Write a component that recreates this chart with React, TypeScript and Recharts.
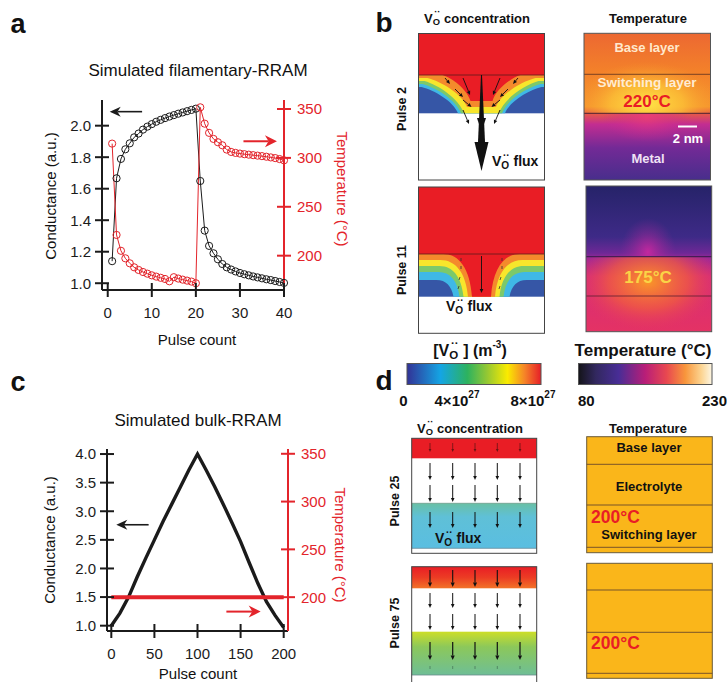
import React from "react";
import { ComposedChart, Line, XAxis, YAxis, ReferenceLine } from "recharts";

const FONT = '"Liberation Sans", Arial, Helvetica, sans-serif';
const INK = "#1b1b1b";
const RED = "#e3242b";
const FIELD_RED = "#e91d25";

// filamentary device: pulses 1-40, potentiation then depression
const filPulses = [
  1, 2, 3, 4, 5, 6, 7, 8, 9, 10, 11, 12, 13, 14, 15, 16, 17, 18, 19, 20,
  21, 22, 23, 24, 25, 26, 27, 28, 29, 30, 31, 32, 33, 34, 35, 36, 37, 38, 39, 40,
];
const filConductance = [
  1.14, 1.666, 1.789, 1.85, 1.888, 1.926, 1.95, 1.975, 1.994, 2.01,
  2.025, 2.037, 2.048, 2.058, 2.067, 2.076, 2.084, 2.092, 2.1, 2.108,
  1.649, 1.334, 1.237, 1.19, 1.152, 1.122, 1.101, 1.087, 1.075, 1.065,
  1.057, 1.05, 1.043, 1.037, 1.031, 1.025, 1.02, 1.014, 1.008, 1.002,
];
const filTemperature = [
  314.6, 221.2, 205, 197.3, 192.2, 188.1, 185.4, 183.3, 181.6, 179.9,
  178.6, 177.4, 176.2, 173.8, 178, 176.6, 175.5, 174.5, 173.5, 171.8,
  351.7, 335, 325.6, 319.4, 316, 312.9, 308.5, 306.1, 305.1, 304.4,
  303.8, 303.3, 302.8, 302.3, 301.8, 301.2, 300.5, 299.8, 298.8, 297.5,
];
const filTicksX = [0, 10, 20, 30, 40];
const filTicksG = [1.0, 1.2, 1.4, 1.6, 1.8, 2.0];
const filTicksT = [200, 250, 300, 350];

// bulk device: linear-ish ramp up and down over 200 pulses
const bulkPulses = [0, 10, 20, 30, 40, 50, 60, 70, 80, 90, 100, 110, 120, 130, 140, 150, 160, 170, 180, 190, 200];
const bulkConductance = [
  1.0, 1.22, 1.5, 1.85, 2.18, 2.5, 2.82, 3.12, 3.42, 3.72, 4.0,
  3.72, 3.43, 3.12, 2.8, 2.47, 2.1, 1.74, 1.42, 1.18, 0.97,
];
const bulkTempPulses = [0, 200];
const bulkTemperature = [200, 200];
const bulkTicksX = [0, 50, 100, 150, 200];
const bulkTicksG = [1.0, 1.5, 2.0, 2.5, 3.0, 3.5, 4.0];
const bulkTicksT = [200, 250, 300, 350];

const leftTick = (p: any) => (
  <g>
    <line x1={p.x - 7} x2={p.x + 7} y1={p.y} y2={p.y} stroke={INK} strokeWidth={2} />
    <text x={p.x - 11} y={p.y} dy="0.36em" textAnchor="end" fontSize={15} fontFamily={FONT} fill={INK}>
      {Number(p.payload.value).toFixed(1)}
    </text>
  </g>
);

const bottomTick = (p: any) => (
  <g>
    <line x1={p.x} x2={p.x} y1={p.y - 7} y2={p.y + 7} stroke={INK} strokeWidth={2} />
    <text x={p.x} y={p.y + 23} dy="0.36em" textAnchor="middle" fontSize={15} fontFamily={FONT} fill={INK}>
      {p.payload.value}
    </text>
  </g>
);

const rightTick = (p: any) => (
  <g>
    <line x1={p.x - 7} x2={p.x + 7} y1={p.y} y2={p.y} stroke={RED} strokeWidth={2} />
    <text x={p.x + 13} y={p.y} dy="0.36em" textAnchor="start" fontSize={15} fontFamily={FONT} fill={RED}>
      {p.payload.value}
    </text>
  </g>
);

// arrow drawn along a reference segment, head at the second point
const arrowShape = (color: string, width: number, headLen: number, headHalf: number) => (p: any) => {
  const { x1, y1, x2, y2 } = p;
  const dx = x2 - x1;
  const dy = y2 - y1;
  const len = Math.hypot(dx, dy) || 1;
  const ux = dx / len;
  const uy = dy / len;
  const bx = x2 - ux * headLen;
  const by = y2 - uy * headLen;
  const nx = -uy * headHalf;
  const ny = ux * headHalf;
  const nxb = bx + ux * headLen * 0.3;
  const nyb = by + uy * headLen * 0.3;
  return (
    <g>
      <line x1={x1} y1={y1} x2={nxb} y2={nyb} stroke={color} strokeWidth={width} />
      <polygon points={`${x2},${y2} ${bx + nx},${by + ny} ${nxb},${nyb} ${bx - nx},${by - ny}`} fill={color} />
    </g>
  );
};

const dotStyle = (c: string) => ({ r: 3.6, stroke: c, strokeWidth: 1, fill: "none" });

function FilamentChart() {
  const rows = filPulses.map((p, i) => ({ pulse: p, g: filConductance[i], t: filTemperature[i] }));
  return (
    <ComposedChart width={360} height={345} data={rows} margin={{ top: 100, right: 0, bottom: 15, left: 0 }}>
      <XAxis xAxisId="frame" orientation="top" type="number" domain={[0, 1]} height={0} tick={false} tickLine={false}
        axisLine={{ stroke: INK, strokeWidth: 2 }} />
      <XAxis dataKey="pulse" type="number" domain={[-1.3, 40]} ticks={filTicksX} interval={0} height={40}
        tickSize={0} tickMargin={0} tickLine={false} tick={bottomTick} axisLine={{ stroke: INK, strokeWidth: 2 }} />
      <YAxis yAxisId="g" type="number" domain={[0.957, 2.163]} ticks={filTicksG} interval={0} width={102}
        tickSize={0} tickMargin={0} tickLine={false} tick={leftTick} axisLine={{ stroke: INK, strokeWidth: 2 }} />
      <YAxis yAxisId="t" orientation="right" type="number" domain={[164.9, 359.2]} ticks={filTicksT} interval={0} width={76}
        tickSize={0} tickMargin={0} tickLine={false} tick={rightTick} axisLine={{ stroke: RED, strokeWidth: 2 }} />
      <Line yAxisId="g" dataKey="g" type="linear" stroke={INK} strokeWidth={1} dot={dotStyle(INK)} activeDot={false} isAnimationActive={false} />
      <Line yAxisId="t" dataKey="t" type="linear" stroke={RED} strokeWidth={1} dot={dotStyle(RED)} activeDot={false} isAnimationActive={false} />
      <ReferenceLine yAxisId="g" ifOverflow="visible" segment={[{ x: 7.8, y: 2.089 }, { x: 0.45, y: 2.089 }]}
        shape={arrowShape(INK, 1.6, 11, 5)} />
      <ReferenceLine yAxisId="t" ifOverflow="visible" segment={[{ x: 30.8, y: 317 }, { x: 38.4, y: 317 }]}
        shape={arrowShape(RED, 2, 12, 6)} />
    </ComposedChart>
  );
}

function BulkChart() {
  const gRows = bulkPulses.map((p, i) => ({ pulse: p, g: bulkConductance[i] }));
  const tRows = bulkTempPulses.map((p, i) => ({ pulse: p, t: bulkTemperature[i] }));
  return (
    <ComposedChart width={360} height={342} margin={{ top: 109, right: 0, bottom: 11, left: 0 }}>
      <XAxis xAxisId="frame" orientation="top" type="number" domain={[0, 1]} height={0} tick={false} tickLine={false}
        axisLine={{ stroke: INK, strokeWidth: 2 }} />
      <XAxis dataKey="pulse" type="number" domain={[-5, 205]} ticks={bulkTicksX} interval={0} height={40}
        tickSize={0} tickMargin={0} tickLine={false} tick={bottomTick} axisLine={{ stroke: INK, strokeWidth: 2 }} />
      <YAxis yAxisId="g" type="number" domain={[0.907, 4.088]} ticks={bulkTicksG} interval={0} width={107}
        tickSize={0} tickMargin={0} tickLine={false} tick={leftTick} axisLine={{ stroke: INK, strokeWidth: 2 }} />
      <YAxis yAxisId="t" orientation="right" type="number" domain={[164.6, 355]} ticks={bulkTicksT} interval={0} width={72}
        tickSize={0} tickMargin={0} tickLine={false} tick={rightTick} axisLine={{ stroke: RED, strokeWidth: 2 }} />
      <Line yAxisId="g" data={gRows} dataKey="g" type="linear" stroke={INK} strokeWidth={3.4} dot={false} activeDot={false} isAnimationActive={false} />
      <Line yAxisId="t" data={tRows} dataKey="t" type="linear" stroke={RED} strokeWidth={4} dot={false} activeDot={false} isAnimationActive={false} />
      <ReferenceLine yAxisId="g" ifOverflow="visible" segment={[{ x: 43.3, y: 2.764 }, { x: 5.8, y: 2.764 }]}
        shape={arrowShape(INK, 1.6, 11, 5)} />
      <ReferenceLine yAxisId="t" ifOverflow="visible" segment={[{ x: 133.5, y: 184.9 }, { x: 173.3, y: 184.9 }]}
        shape={arrowShape(RED, 2, 12, 6)} />
    </ComposedChart>
  );
}

// V_O with the double-dot charge mark
function Vo({ size }: { size: number }) {
  return (
    <>
      <tspan>V</tspan>
      <tspan fontSize={size * 0.72} dy={size * 0.3}>O</tspan>
      <tspan fontSize={size * 0.72} dx={-size * 0.45} dy={-size * 0.75}>··</tspan>
      <tspan dy={size * 0.45}> </tspan>
    </>
  );
}

// one contour band of the vacancy filament; "v" = straight funnel, "s" = plateau then steep neck
function bandPath(L: number, R: number, cx: number, yTop: number, wallY: number, flat: number, neck: number, yBot: number, kind: string) {
  const sx = L + flat;
  const ex = cx - neck;
  const h = yBot - wallY;
  const c1 = kind === "v" ? [sx + (ex - sx) * 0.35, wallY + h * 0.12] : [sx + (ex - sx) * 0.55, wallY];
  const c2 = kind === "v" ? [ex - (ex - sx) * 0.12, yBot - h * 0.45] : [ex - 2, wallY + h * 0.35];
  const sx2 = R - flat;
  const ex2 = cx + neck;
  const m1 = [2 * cx - c2[0], c2[1]];
  const m2 = [2 * cx - c1[0], c1[1]];
  return (
    `M${L},${yTop} L${L},${wallY} L${sx},${wallY} C${c1[0]},${c1[1]} ${c2[0]},${c2[1]} ${ex},${yBot} ` +
    `L${ex2},${yBot} C${m1[0]},${m1[1]} ${m2[0]},${m2[1]} ${sx2},${wallY} L${R},${wallY} L${R},${yTop} Z`
  );
}

const JET = ["#3fb8e6", "#7cc96a", "#f7e62c", "#f48a2c", FIELD_RED];

function Filament({ top, iface, layerBot, bottom, bands, kind }: { top: number; iface: number; layerBot: number; bottom: number; bands: number[][]; kind: string }) {
  const L = 418.5;
  const R = 544.5;
  const cx = 481.5;
  return (
    <g>
      <rect x={L} y={top} width={R - L} height={bottom - top} fill="#fff" />
      <rect x={L} y={top} width={R - L} height={iface - top} fill={FIELD_RED} />
      <rect x={L} y={iface} width={R - L} height={layerBot - iface} fill="#3656a6" />
      {bands.map((b, i) => (
        <path key={i} d={bandPath(L, R, cx, iface, b[0], b[1], b[2], b[3], kind)} fill={JET[i]} />
      ))}
      <line x1={L} x2={R} y1={iface} y2={iface} stroke="#5a1a1a" strokeWidth={0.8} />
      <rect x={L} y={top} width={R - L} height={bottom - top} fill="none" stroke="#444" strokeWidth={1} />
    </g>
  );
}

function SmallArrow({ x1, y1, x2, y2, w = 1, head = 4, color = "#111" }: any) {
  const dx = x2 - x1;
  const dy = y2 - y1;
  const len = Math.hypot(dx, dy) || 1;
  const ux = dx / len;
  const uy = dy / len;
  const bx = x2 - ux * head;
  const by = y2 - uy * head;
  const hw = head * 0.45;
  return (
    <g>
      <line x1={x1} y1={y1} x2={bx} y2={by} stroke={color} strokeWidth={w} />
      <polygon points={`${x2},${y2} ${bx - uy * hw},${by + ux * hw} ${bx + uy * hw},${by - ux * hw}`} fill={color} />
    </g>
  );
}

const COLS = [430, 452.7, 475, 497.3, 520];

function ArrowRow({ y1, y2, color = "#111", head = 4, w = 1 }: any) {
  return (
    <g>
      {COLS.map((x) => (
        <SmallArrow key={x} x1={x} y1={y1} x2={x} y2={y2} color={color} head={head} w={w} />
      ))}
    </g>
  );
}

function Label({ x, y, size = 13, anchor = "middle", fill = "#111", weight = "bold", rotate, children }: any) {
  return (
    <text x={x} y={y} fontSize={size} fontWeight={weight} fill={fill} textAnchor={anchor} dominantBaseline="central"
      fontFamily={FONT} transform={rotate ? `rotate(${rotate} ${x} ${y})` : undefined}>
      {children}
    </text>
  );
}

function Panels() {
  const pulse2Arrows = [
    [445, 78, 450, 84],
    [463, 78, 470, 95],
    [455, 89, 463, 97],
    [463, 100, 471.5, 107],
    [463, 110, 469, 124],
  ];
  return (
    <svg width={727} height={682} style={{ position: "absolute", left: 0, top: 0, pointerEvents: "none" }}>
      <defs>
        <linearGradient id="hot2" x1="0" y1="0" x2="0" y2="1">
          <stop offset="0" stopColor="rgb(236,104,50)" />
          <stop offset="0.25" stopColor="rgb(243,128,42)" />
          <stop offset="0.5" stopColor="rgb(246,150,45)" />
          <stop offset="0.545" stopColor="rgb(232,90,70)" />
          <stop offset="0.62" stopColor="rgb(195,45,145)" />
          <stop offset="0.78" stopColor="rgb(115,42,150)" />
          <stop offset="1" stopColor="rgb(72,46,140)" />
        </linearGradient>
        <radialGradient id="glow2">
          <stop offset="0" stopColor="rgb(255,228,70)" stopOpacity="1" />
          <stop offset="0.5" stopColor="rgb(252,196,55)" stopOpacity="0.75" />
          <stop offset="1" stopColor="rgb(246,150,45)" stopOpacity="0" />
        </radialGradient>
        <radialGradient id="mag2">
          <stop offset="0" stopColor="rgb(235,60,120)" stopOpacity="0.9" />
          <stop offset="1" stopColor="rgb(200,40,150)" stopOpacity="0" />
        </radialGradient>
        <linearGradient id="hot11" x1="0" y1="0" x2="0" y2="1">
          <stop offset="0" stopColor="rgb(38,35,105)" />
          <stop offset="0.35" stopColor="rgb(62,42,135)" />
          <stop offset="0.46" stopColor="rgb(110,40,150)" />
          <stop offset="0.5" stopColor="rgb(160,40,150)" />
          <stop offset="0.62" stopColor="rgb(215,45,120)" />
          <stop offset="1" stopColor="rgb(228,50,100)" />
        </linearGradient>
        <radialGradient id="glow11">
          <stop offset="0" stopColor="rgb(250,150,40)" stopOpacity="1" />
          <stop offset="0.55" stopColor="rgb(242,95,60)" stopOpacity="0.7" />
          <stop offset="1" stopColor="rgb(230,60,90)" stopOpacity="0" />
        </radialGradient>
        <radialGradient id="mag11">
          <stop offset="0" stopColor="rgb(210,40,160)" stopOpacity="0.85" />
          <stop offset="1" stopColor="rgb(150,40,150)" stopOpacity="0" />
        </radialGradient>
        <linearGradient id="jet" x1="0" y1="0" x2="1" y2="0">
          <stop offset="0" stopColor="rgb(50,50,150)" />
          <stop offset="0.25" stopColor="rgb(20,165,228)" />
          <stop offset="0.45" stopColor="rgb(45,178,95)" />
          <stop offset="0.6" stopColor="rgb(150,200,50)" />
          <stop offset="0.75" stopColor="rgb(250,235,0)" />
          <stop offset="0.88" stopColor="rgb(245,130,40)" />
          <stop offset="1" stopColor="rgb(230,30,40)" />
        </linearGradient>
        <linearGradient id="inferno" x1="0" y1="0" x2="1" y2="0">
          <stop offset="0" stopColor="rgb(20,20,25)" />
          <stop offset="0.13" stopColor="rgb(50,40,95)" />
          <stop offset="0.3" stopColor="rgb(72,45,150)" />
          <stop offset="0.5" stopColor="rgb(185,30,120)" />
          <stop offset="0.66" stopColor="rgb(232,72,80)" />
          <stop offset="0.8" stopColor="rgb(248,150,60)" />
          <stop offset="0.92" stopColor="rgb(252,212,145)" />
          <stop offset="1" stopColor="rgb(252,246,228)" />
        </linearGradient>
        <linearGradient id="teal" x1="0" y1="0" x2="0" y2="1">
          <stop offset="0" stopColor="rgb(105,192,165)" />
          <stop offset="0.3" stopColor="rgb(95,192,215)" />
          <stop offset="1" stopColor="rgb(90,190,225)" />
        </linearGradient>
        <linearGradient id="lime" x1="0" y1="0" x2="0" y2="1">
          <stop offset="0" stopColor="rgb(205,222,40)" />
          <stop offset="0.35" stopColor="rgb(140,200,90)" />
          <stop offset="1" stopColor="rgb(110,190,150)" />
        </linearGradient>
        <linearGradient id="redband" x1="0" y1="0" x2="0" y2="1">
          <stop offset="0" stopColor={FIELD_RED} />
          <stop offset="0.5" stopColor="rgb(236,60,36)" />
          <stop offset="1" stopColor="rgb(242,115,40)" />
        </linearGradient>
        <clipPath id="upper2"><rect x={584} y={33} width={127} height={80.3} /></clipPath>
        <clipPath id="lower2"><rect x={584} y={113.3} width={127} height={67} /></clipPath>
        <clipPath id="upper11"><rect x={586} y={186} width={126} height={70.7} /></clipPath>
        <clipPath id="lower11"><rect x={586} y={256.7} width={126} height={76} /></clipPath>
      </defs>

      {/* panel letters and chart captions */}
      <Label x={18} y={24} size={27}>a</Label>
      <Label x={198} y={70} size={17} weight="normal">Simulated filamentary-RRAM</Label>
      <Label x={50.5} y={196} size={15} weight="normal" rotate={-90}>Conductance (a.u.)</Label>
      <Label x={342.5} y={189} size={15} weight="normal" rotate={90} fill={RED}>Temperature (°C)</Label>
      <Label x={197} y={339} size={15} weight="normal">Pulse count</Label>

      <Label x={18} y={382} size={27}>c</Label>
      <Label x={198} y={420} size={17} weight="normal">Simulated bulk-RRAM</Label>
      <Label x={49} y={540} size={15} weight="normal" rotate={-90}>Conductance (a.u.)</Label>
      <Label x={340.5} y={545} size={15} weight="normal" rotate={90} fill={RED}>Temperature (°C)</Label>
      <Label x={198} y={673} size={15} weight="normal">Pulse count</Label>

      {/* panel b */}
      <Label x={384} y={22} size={28}>b</Label>
      <Label x={477} y={18} size={13}><Vo size={13} />concentration</Label>
      <Label x={648} y={18} size={13}>Temperature</Label>
      <Label x={401.5} y={109} size={12.5} rotate={-90}>Pulse 2</Label>
      <Label x={401.5} y={270} size={12.5} rotate={-90}>Pulse 11</Label>

      <Filament top={33.5} iface={75} layerBot={113.3} bottom={180} kind="v"
        bands={[[87, 3, 23.5, 113.3], [84, 4, 20.5, 113.3], [81, 6, 17.5, 113.3], [78, 9, 14.5, 107], [75, 24, 11, 101]]} />
      {pulse2Arrows.map((a, i) => (
        <g key={i}>
          <SmallArrow x1={a[0]} y1={a[1]} x2={a[2]} y2={a[3]} head={4} w={0.9} />
          <SmallArrow x1={963 - a[0]} y1={a[1]} x2={963 - a[2]} y2={a[3]} head={4} w={0.9} />
        </g>
      ))}
      <polygon points="481,75 482,75 485,142 478,142" fill="#111" />
      <polygon points="477,118 486,118 481.5,132" fill="#111" />
      <polygon points="474.5,142 488.5,142 481.5,171" fill="#111" />
      <text x={492} y={161} fontSize={14} fontWeight="bold" fontFamily={FONT} fill="#111" dominantBaseline="central">
        <Vo size={14} />flux
      </text>

      <Filament top={187} iface={254} layerBot={296.7} bottom={333.3} kind="s"
        bands={[[280, 18, 28, 296.7], [272, 20, 22, 296.7], [266, 21, 18, 296.7], [260, 22, 13.5, 296.7], [254, 25, 9.5, 296.7]]} />
      <SmallArrow x1={481.5} y1={256} x2={481.5} y2={293} head={4} w={0.9} />
      {[461, 502].map((x) => (
        <g key={x}>
          <line x1={x} x2={x} y1={258} y2={261} stroke="#333" strokeWidth={0.8} />
          <line x1={x} x2={x} y1={266} y2={269} stroke="#333" strokeWidth={0.8} />
          <line x1={x - 1} x2={x - 2} y1={277} y2={280} stroke="#333" strokeWidth={0.8} />
          <line x1={x - 2} x2={x - 3} y1={286} y2={289} stroke="#333" strokeWidth={0.8} />
        </g>
      ))}
      <text x={446} y={306} fontSize={14} fontWeight="bold" fontFamily={FONT} fill="#111" dominantBaseline="central">
        <Vo size={14} />flux
      </text>

      {/* temperature maps */}
      <rect x={584} y={33.3} width={126.5} height={146.7} fill="url(#hot2)" />
      <ellipse cx={647} cy={104} rx={72} ry={42} fill="url(#glow2)" clipPath="url(#upper2)" />
      <ellipse cx={647} cy={116} rx={45} ry={26} fill="url(#mag2)" clipPath="url(#lower2)" />
      <line x1={584} x2={710.5} y1={74.3} y2={74.3} stroke="#5a3020" strokeWidth={0.8} />
      <line x1={584} x2={710.5} y1={113.3} y2={113.3} stroke="#3a1a30" strokeWidth={0.9} />
      <rect x={584} y={33.3} width={126.5} height={146.7} fill="none" stroke="#555" strokeWidth={1} />
      <Label x={647} y={47.5} size={13} fill="rgb(255,232,205)">Base layer</Label>
      <Label x={647} y={82} size={13.5} fill="rgb(255,236,210)">Switching layer</Label>
      <Label x={647} y={101.5} size={17} fill={FIELD_RED}>220°C</Label>
      <line x1={678} x2={697} y1={126.5} y2={126.5} stroke="#fff" strokeWidth={2} />
      <Label x={688} y={138} size={13} fill="#fff">2 nm</Label>
      <Label x={648} y={158} size={13} fill="rgb(240,225,245)">Metal</Label>

      <rect x={586} y={186} width={125.7} height={145.7} fill="url(#hot11)" />
      <ellipse cx={648} cy={282} rx={72} ry={48} fill="url(#glow11)" clipPath="url(#lower11)" />
      <ellipse cx={648} cy={252} rx={28} ry={34} fill="url(#mag11)" clipPath="url(#upper11)" />
      <line x1={586} x2={711.7} y1={256.7} y2={256.7} stroke="#2a1a40" strokeWidth={0.9} />
      <line x1={586} x2={711.7} y1={296} y2={296} stroke="#5a2030" strokeWidth={0.8} />
      <rect x={586} y={186} width={125.7} height={145.7} fill="none" stroke="#555" strokeWidth={1} />
      <Label x={648} y={277} size={17} fill="rgb(250,212,70)">175°C</Label>

      {/* colour scales */}
      <text x={470} y={350} fontSize={16} fontWeight="bold" fontFamily={FONT} fill="#111" textAnchor="middle" dominantBaseline="central">
        [<Vo size={16} />] (m<tspan fontSize={10} dy={-6}>-3</tspan><tspan dy={6}>)</tspan>
      </text>
      <Label x={643} y={350} size={17}>Temperature (°C)</Label>
      <rect x={407} y={363.5} width={134} height={21} fill="url(#jet)" stroke="#555" strokeWidth={1} />
      <rect x={578.5} y={363.5} width={133.5} height={21} fill="url(#inferno)" stroke="#555" strokeWidth={1} />
      <Label x={384} y={380} size={28}>d</Label>
      <Label x={403.5} y={400} size={15}>0</Label>
      <text x={457} y={400} fontSize={15} fontWeight="bold" fontFamily={FONT} fill="#111" textAnchor="middle" dominantBaseline="central">
        4×10<tspan fontSize={10} dy={-6}>27</tspan>
      </text>
      <text x={533} y={400} fontSize={15} fontWeight="bold" fontFamily={FONT} fill="#111" textAnchor="middle" dominantBaseline="central">
        8×10<tspan fontSize={10} dy={-6}>27</tspan>
      </text>
      <Label x={578} y={400} size={15} anchor="start">80</Label>
      <Label x={727} y={400} size={15} anchor="end">230</Label>

      {/* panel d */}
      <Label x={470} y={428} size={13}><Vo size={13} />concentration</Label>
      <Label x={648} y={428} size={13}>Temperature</Label>
      <Label x={395} y={501} size={12.5} rotate={-90}>Pulse 25</Label>
      <Label x={395} y={623} size={12.5} rotate={-90}>Pulse 75</Label>

      <rect x={411.7} y={438.3} width={125} height={115} fill="#fff" />
      <rect x={411.7} y={438.3} width={125} height={20} fill={FIELD_RED} />
      <rect x={411.7} y={503.3} width={125} height={45} fill="url(#teal)" />
      <line x1={411.7} x2={536.7} y1={503.3} y2={503.3} stroke="#6a9a8a" strokeWidth={0.8} />
      <line x1={411.7} x2={536.7} y1={548.3} y2={548.3} stroke="#6a8a9a" strokeWidth={0.8} />
      <ArrowRow y1={443} y2={452} color="#6a1414" head={3} w={0.8} />
      <ArrowRow y1={463} y2={480} />
      <ArrowRow y1={485} y2={502} />
      <ArrowRow y1={512} y2={528} />
      <rect x={411.7} y={438.3} width={125} height={115} fill="none" stroke="#444" strokeWidth={1} />
      <text x={435} y={538} fontSize={14} fontWeight="bold" fontFamily={FONT} fill="#111" dominantBaseline="central">
        <Vo size={14} />flux
      </text>

      <rect x={411.7} y={566.7} width={125} height={125} fill="#fff" />
      <rect x={411.7} y={566.7} width={125} height={21.6} fill="url(#redband)" />
      <rect x={411.7} y={631.7} width={125} height={43.3} fill="url(#lime)" />
      <line x1={411.7} x2={536.7} y1={675} y2={675} stroke="#6a8a8a" strokeWidth={0.8} />
      <ArrowRow y1={570} y2={587} head={4.5} w={1.1} />
      <ArrowRow y1={593} y2={608} />
      <ArrowRow y1={614} y2={630} />
      <ArrowRow y1={642} y2={660} head={4.5} w={1.2} />
      {COLS.map((x) => (
        <line key={x} x1={x} x2={x} y1={666} y2={669} stroke="#4a7a5a" strokeWidth={0.8} />
      ))}
      <rect x={411.7} y={566.7} width={125} height={125} fill="none" stroke="#444" strokeWidth={1} />

      <rect x={586.7} y={436.7} width={125.6} height={116} fill="rgb(250,182,26)" stroke="#6a5a3a" strokeWidth={1} />
      {[464.3, 505, 547.3].map((y) => (
        <line key={y} x1={586.7} x2={712.3} y1={y} y2={y} stroke="#6a4a2a" strokeWidth={0.9} />
      ))}
      <Label x={649} y={447} size={13}>Base layer</Label>
      <Label x={649} y={486} size={13}>Electrolyte</Label>
      <Label x={591} y={517} size={17.5} anchor="start" fill={FIELD_RED}>200°C</Label>
      <Label x={649} y={534.5} size={13}>Switching layer</Label>

      <rect x={586.7} y={563.3} width={125.6} height={115} fill="rgb(250,182,26)" stroke="#6a5a3a" strokeWidth={1} />
      {[590, 632.3, 673.3].map((y) => (
        <line key={y} x1={586.7} x2={712.3} y1={y} y2={y} stroke="#6a4a2a" strokeWidth={0.9} />
      ))}
      <Label x={591} y={643} size={17.5} anchor="start" fill={FIELD_RED}>200°C</Label>
    </svg>
  );
}

export default function App() {
  return (
    <div style={{ position: "relative", width: 727, height: 682, overflow: "hidden", background: "#fff", fontFamily: FONT }}>
      <style>{"body{margin:0}"}</style>
      <div style={{ position: "absolute", left: 0, top: 0 }}>
        <FilamentChart />
      </div>
      <div style={{ position: "absolute", left: 0, top: 340 }}>
        <BulkChart />
      </div>
      <Panels />
    </div>
  );
}
